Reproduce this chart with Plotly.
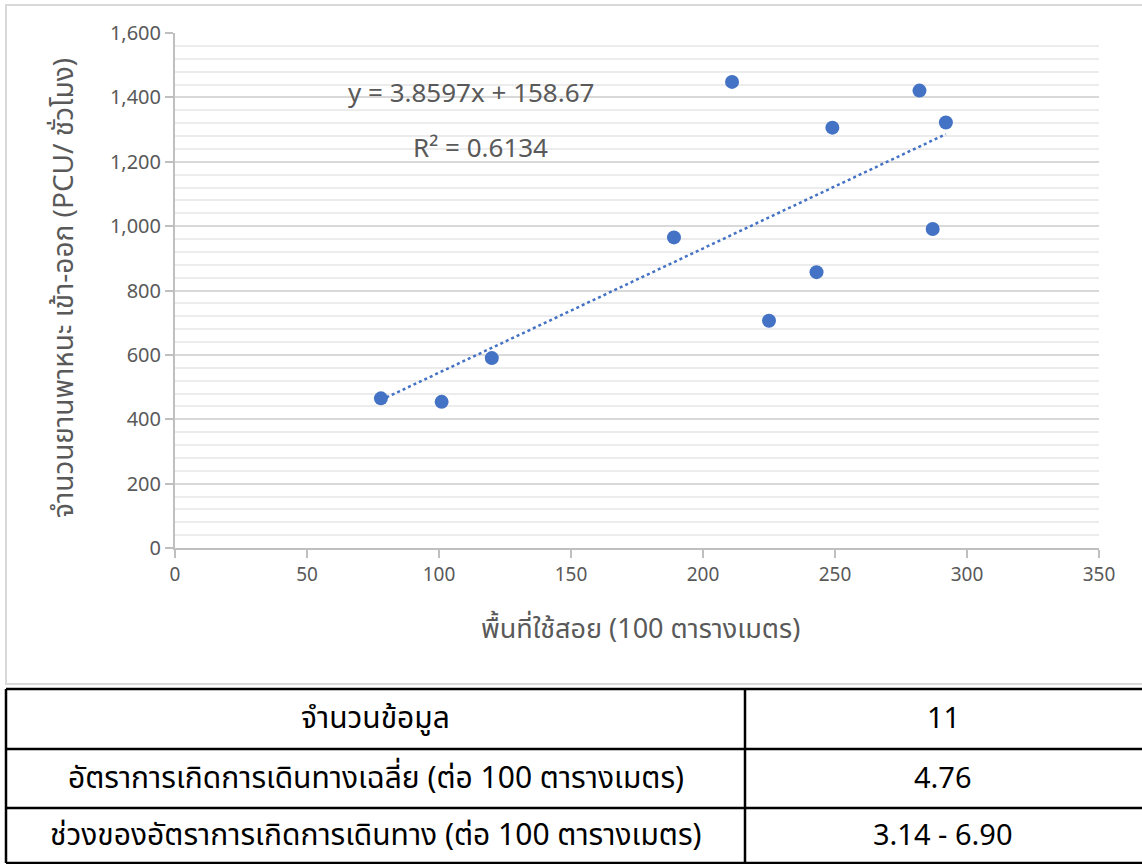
import plotly.graph_objects as go

# Usable area (100 m²) vs. vehicles in/out (PCU/hour)
area = [78, 101, 120, 189, 211, 225, 243, 249, 282, 287, 292]
pcu = [465, 454, 590, 965, 1448, 706, 857, 1306, 1421, 991, 1322]

# Linear trendline coefficients
slope = 3.8597
intercept = 158.67
r_squared = 0.6134

# Summary table
table_labels = [
    "จำนวนข้อมูล",
    "อัตราการเกิดการเดินทางเฉลี่ย (ต่อ 100 ตารางเมตร)",
    "ช่วงของอัตราการเกิดการเดินทาง (ต่อ 100 ตารางเมตร)",
]
table_values = ["11", "4.76", "3.14 - 6.90"]

x_ticks = [0, 50, 100, 150, 200, 250, 300, 350]
y_ticks = [0, 200, 400, 600, 800, 1000, 1200, 1400, 1600]

W, H = 1142, 864
BLUE = "#4472C4"
GREY_TXT = "#595959"
FONT = "Noto Sans, Noto Sans Thai, sans-serif"
TABLE_FONT = "Noto Sans Thai, Noto Sans, sans-serif"


def px(x):
    return x / W


def py(y):
    return 1 - y / H


fig = go.Figure()

trend_x = [min(area), max(area)]
trend_y = [slope * v + intercept for v in trend_x]
fig.add_trace(go.Scatter(
    x=trend_x, y=trend_y, mode="lines",
    line=dict(color=BLUE, width=2.5, dash="dot"),
    hoverinfo="skip", showlegend=False,
))
fig.add_trace(go.Scatter(
    x=area, y=pcu, mode="markers",
    marker=dict(color=BLUE, size=14),
    showlegend=False,
))

fig.update_xaxes(
    domain=[px(175), px(1099)], range=[0, 350], automargin=False,
    tickvals=x_ticks, ticktext=[str(v) for v in x_ticks],
    showgrid=False, zeroline=False,
    showline=True, linecolor="#bfbfbf", linewidth=2,
    ticks="outside", ticklen=8, tickcolor="#bfbfbf", tickwidth=2,
    tickfont=dict(family=FONT, size=19, color=GREY_TXT),
)
fig.update_yaxes(
    domain=[py(548), py(33)], range=[0, 1600], automargin=False,
    tickvals=y_ticks, ticktext=[f"{v:,}" for v in y_ticks],
    showgrid=True, gridcolor="#d9d9d9", gridwidth=2,
    minor=dict(dtick=40, showgrid=True, gridcolor="#ececec", gridwidth=2),
    zeroline=False,
    showline=True, linecolor="#bfbfbf", linewidth=2,
    ticks="outside", ticklen=8, tickcolor="#bfbfbf", tickwidth=2,
    tickfont=dict(family=FONT, size=20, color=GREY_TXT),
)

annotations = [
    # axis titles
    dict(x=px(640), y=py(627), xref="paper", yref="paper",
         xanchor="center", yanchor="middle",
         text="พื้นที่ใช้สอย (100 ตารางเมตร)", showarrow=False,
         font=dict(family=FONT, size=27, color=GREY_TXT)),
    dict(x=px(62), y=py(288), xref="paper", yref="paper",
         xanchor="center", yanchor="middle", textangle=-90,
         text="จำนวนยานพาหนะ เข้า-ออก (PCU/ ชั่วโมง)", showarrow=False,
         font=dict(family=FONT, size=28, color=GREY_TXT)),
    # trendline label
    dict(x=px(471), y=py(92), xref="paper", yref="paper",
         xanchor="center", yanchor="middle",
         text=f"y = {slope}x + {intercept}", showarrow=False,
         font=dict(family=FONT, size=26, color=GREY_TXT)),
    dict(x=px(480), y=py(147), xref="paper", yref="paper",
         xanchor="center", yanchor="middle",
         text=f"R² = {r_squared}", showarrow=False,
         font=dict(family=FONT, size=26, color=GREY_TXT)),
]

shapes = [
    # chart frame
    dict(type="rect", xref="paper", yref="paper",
         x0=px(6), x1=px(1160), y0=py(684), y1=py(5),
         line=dict(color="#d9d9d9", width=2)),
]

# table grid
row_edges = [689, 749, 808, 863]
col_left, col_mid, col_right = 6, 745, 1160
for ry in row_edges:
    shapes.append(dict(type="line", xref="paper", yref="paper",
                       x0=px(col_left), x1=px(col_right), y0=py(ry), y1=py(ry),
                       line=dict(color="black", width=2.5)))
for cx in (col_left, col_mid):
    shapes.append(dict(type="line", xref="paper", yref="paper",
                       x0=px(cx), x1=px(cx), y0=py(row_edges[0]), y1=py(row_edges[-1]),
                       line=dict(color="black", width=2.5)))

for i, (lab, val) in enumerate(zip(table_labels, table_values)):
    cy = (row_edges[i] + row_edges[i + 1]) / 2
    annotations.append(dict(x=px((col_left + col_mid) / 2), y=py(cy),
                            xref="paper", yref="paper", text=lab, showarrow=False,
                            xanchor="center", yanchor="middle",
                            font=dict(family=TABLE_FONT, size=30, color="black")))
    annotations.append(dict(x=px(943), y=py(cy),
                            xref="paper", yref="paper", text=val, showarrow=False,
                            xanchor="center", yanchor="middle",
                            font=dict(family=TABLE_FONT, size=29, color="black")))

fig.update_layout(
    width=W, height=H,
    margin=dict(l=0, r=0, t=0, b=0, pad=0),
    paper_bgcolor="white", plot_bgcolor="white",
    annotations=annotations, shapes=shapes,
    showlegend=False,
)

fig.write_html("out.html")
